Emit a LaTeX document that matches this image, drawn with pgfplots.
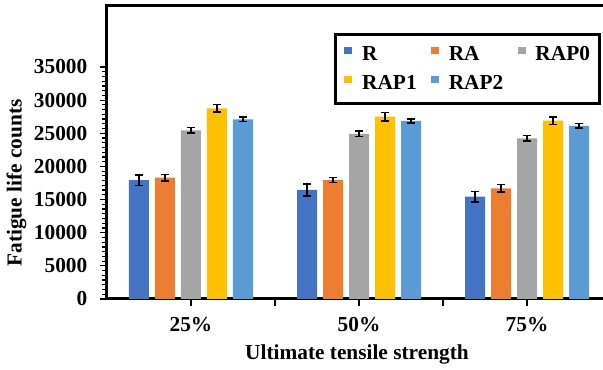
\documentclass[border=0pt]{standalone}
\usepackage{fontspec}
\setmainfont{Liberation Serif}
\usepackage{pgfplots}
\pgfplotsset{compat=1.18}
\definecolor{cR}{HTML}{4472C4}
\definecolor{cRA}{HTML}{ED7D31}
\definecolor{cRAP0}{HTML}{A5A5A5}
\definecolor{cRAP1}{HTML}{FFC000}
\definecolor{cRAP2}{HTML}{5B9BD5}
\newcommand{\lw}[1]{\makebox[46pt][l]{#1}}
\begin{document}
\begin{tikzpicture}
\begin{axis}[
  at={(0,0)}, anchor=south west,
  scale only axis, width=378pt, height=219.75pt,
  xmin=-0.5, xmax=2.5, ymin=0, ymax=44200,
  ybar=4.5pt, bar width=15pt,
  axis line style={line width=2.25pt},
  tick align=outside,
  xtick pos=bottom, ytick pos=left,
  xtick={0,0.5,1,1.5,2},
  xticklabels={25\%,,50\%,,75\%},
  ytick={0,5000,...,35000},
  minor y tick num=6,
  major tick length=5.25pt, minor tick length=3.75pt,
  every tick/.style={black, line width=0.9pt},
  scaled y ticks=false,
  /pgf/number format/.cd, fixed, 1000 sep={}, assume math mode=true,
  /pgfplots/.cd,
  tick label style={font=\bfseries\fontsize{16}{19}\selectfont},
  xticklabel style={yshift=-5pt},
  yticklabel style={xshift=-6pt},
  label style={font=\bfseries\fontsize{16}{19}\selectfont},
  xlabel={Ultimate tensile strength},
  ylabel={Fatigue life counts},
  xlabel style={at={(axis description cs:0.496,-0.19)}, anchor=center},
  ylabel style={at={(axis description cs:-0.1796,0.396)}, anchor=center},
  legend columns=3,
  legend cell align=left,
  legend style={at={(axis description cs:0.4504,0.908)}, anchor=north west,
    draw=black, line width=2.25pt,
    inner xsep=3pt, inner ysep=7.25pt, row sep=5.25pt,
    font=\bfseries\fontsize{16}{19}\selectfont},
  legend image code/.code={\fill[#1] (3.75pt,0.4pt) rectangle (9.75pt,5.7pt);
     \path (0pt,1.2pt) (15pt,1.2pt);},
  error bars/y dir=both, error bars/y explicit,
  error bars/error bar style={black, line width=1.2pt},
  error bars/error mark options={rotate=90, black, mark size=3pt, line width=1.2pt},
]
\addplot[fill=cR, draw=none] coordinates {(0,17950) +- (0,800) (1,16450) +- (0,900) (2,15440) +- (0,800)};
\addlegendentry{\lw{R}}
\addplot[fill=cRA, draw=none] coordinates {(0,18300) +- (0,500) (1,17950) +- (0,400) (2,16700) +- (0,600)};
\addlegendentry{\lw{RA}}
\addplot[fill=cRAP0, draw=none] coordinates {(0,25450) +- (0,450) (1,24900) +- (0,400) (2,24240) +- (0,450)};
\addlegendentry{\makebox[43pt][l]{RAP0}}
\addplot[fill=cRAP1, draw=none] coordinates {(0,28770) +- (0,550) (1,27500) +- (0,650) (2,26900) +- (0,550)};
\addlegendentry{\lw{RAP1}}
\addplot[fill=cRAP2, draw=none] coordinates {(0,27110) +- (0,350) (1,26860) +- (0,300) (2,26100) +- (0,350)};
\addlegendentry{\lw{RAP2}}
\end{axis}
\pgfresetboundingbox
\useasboundingbox (-80.25pt,-53.25pt) rectangle (372pt,224.25pt);
\end{tikzpicture}
\end{document}
